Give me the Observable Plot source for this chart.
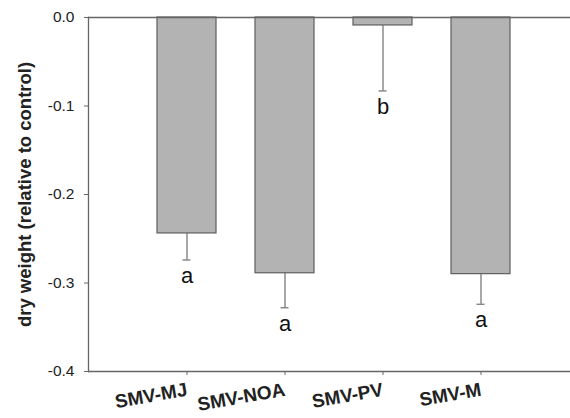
<!DOCTYPE html>
<html>
<head>
<meta charset="utf-8">
<script src="https://cdn.jsdelivr.net/npm/d3@7"></script>
<script src="https://cdn.jsdelivr.net/npm/@observablehq/plot@0.6"></script>
<style>
  html, body { margin: 0; padding: 0; background: #fff; overflow: hidden; }
</style>
</head>
<body>
<div id="chart"></div>
<script>
const categories = ["SMV-MJ", "SMV-NOA", "SMV-PV", "SMV-M"];
const values = [-0.244, -0.289, -0.009, -0.290];
const errors = [0.030, 0.039, 0.074, 0.034];
const letters = ["a", "a", "b", "a"];
const yTicks = [0, -0.1, -0.2, -0.3, -0.4];

const data = categories.map((c, i) => ({
  cat: c, value: values[i], low: values[i] - errors[i], letter: letters[i]
}));

const font = "'Liberation Sans', Arial, sans-serif";

const chart = Plot.plot({
  width: 570,
  height: 418,
  marginLeft: 88,
  marginRight: 0,
  marginTop: 17,
  marginBottom: 47,
  style: { fontFamily: font, background: "#fff", overflow: "visible" },
  x: { domain: categories, range: [88, 578], paddingInner: 0.4, paddingOuter: 0.7, axis: null },
  y: { domain: [-0.4, 0], axis: null },
  marks: [
    Plot.barY(data, { x: "cat", y: "value", fill: "#b3b3b3", stroke: "#5e5e5e", strokeWidth: 1.2 }),
    Plot.ruleX(data, { x: "cat", y1: "value", y2: "low", stroke: "#6e6e6e", strokeWidth: 1.2 }),
    Plot.tickY(data, { x: "cat", y: "low", stroke: "#6e6e6e", strokeWidth: 1.2, insetLeft: 25.5, insetRight: 25.5 }),
    Plot.text(data, { x: "cat", y: "low", text: "letter", dy: 16, fontSize: 22, fill: "#111", fontFamily: font }),
    Plot.ruleY([0, -0.4], { stroke: "#666", strokeWidth: 1.3 }),
    Plot.frame({ anchor: "left", stroke: "#666", strokeWidth: 1.3 }),
    Plot.axisY(yTicks, {
      tickSize: 4, stroke: "#666", tickFormat: d => d.toFixed(1),
      fontSize: 15.5, fill: "#222", tickPadding: 10, label: null
    }),
    Plot.axisX({
      tickSize: 4, stroke: "#666", fontSize: 19, fontWeight: "bold", fill: "#222",
      tickRotate: -10, tickPadding: 14, label: null
    }),
    Plot.text(["dry weight (relative to control)"], {
      frameAnchor: "left", textAnchor: "middle", dx: -63, rotate: -90,
      fontSize: 18.5, fontWeight: "bold", fill: "#222", fontFamily: font
    })
  ]
});
document.getElementById("chart").appendChild(chart);
</script>
</body>
</html>
